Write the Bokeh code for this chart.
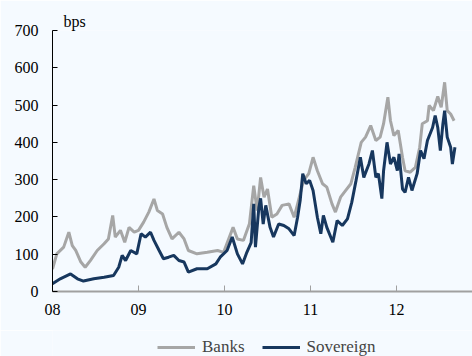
from bokeh.plotting import figure
from bokeh.layouts import column
from bokeh.models import Range1d, FixedTicker, Title, Legend, LegendItem
from bokeh.embed import file_html
from bokeh.resources import INLINE

# ---- data (decimal years, bps) ----
banks_t = [2008.00, 2008.05, 2008.13, 2008.19, 2008.23, 2008.27, 2008.33, 2008.38, 2008.44, 2008.52,
           2008.60, 2008.65, 2008.70, 2008.73, 2008.79, 2008.84, 2008.89, 2008.95,
           2009.00, 2009.06, 2009.12, 2009.18, 2009.22, 2009.28, 2009.33, 2009.39, 2009.47, 2009.53,
           2009.58, 2009.68, 2009.80, 2009.92, 2009.99,
           2010.10, 2010.15, 2010.22, 2010.29, 2010.34, 2010.38, 2010.42, 2010.46, 2010.50, 2010.55,
           2010.61, 2010.67, 2010.75, 2010.81, 2010.86, 2010.92, 2010.98,
           2011.03, 2011.08, 2011.14, 2011.19, 2011.25, 2011.29, 2011.35, 2011.41, 2011.47, 2011.52,
           2011.59, 2011.64, 2011.70, 2011.76, 2011.81, 2011.85, 2011.90, 2011.93, 2011.97,
           2012.02, 2012.07, 2012.10, 2012.16, 2012.22, 2012.27, 2012.30, 2012.36, 2012.38, 2012.43,
           2012.48, 2012.52, 2012.56, 2012.59, 2012.63, 2012.67]
banks_v = [60, 101, 119, 159, 123, 110, 79, 65, 83, 110,
           128, 141, 204, 146, 164, 132, 172, 159,
           164, 186, 213, 248, 217, 208, 172, 141, 159, 141,
           110, 101, 105, 110, 105,
           172, 141, 137, 182, 284, 217, 306, 253, 275, 199,
           208, 231, 235, 199, 244, 298, 316,
           360, 324, 289, 280, 235, 213, 253, 271, 289, 333,
           400, 414, 445, 405, 414, 450, 521, 458, 418,
           432, 360, 324, 320, 333, 387, 450, 458, 499, 485,
           523, 494, 561, 485, 476, 458]

sov_t = [2008.00, 2008.09, 2008.21, 2008.29, 2008.36, 2008.48, 2008.60, 2008.71, 2008.77, 2008.81,
         2008.85, 2008.91, 2008.98,
         2009.03, 2009.08, 2009.14, 2009.18, 2009.24, 2009.29, 2009.35, 2009.41, 2009.47, 2009.53,
         2009.58, 2009.68, 2009.80, 2009.90, 2009.95,
         2010.03, 2010.09, 2010.15, 2010.21, 2010.26, 2010.31, 2010.34, 2010.36, 2010.40, 2010.42,
         2010.45, 2010.48, 2010.53, 2010.57, 2010.63, 2010.69, 2010.75, 2010.81, 2010.85, 2010.88,
         2010.91, 2010.95, 2010.99,
         2011.03, 2011.08, 2011.12, 2011.15, 2011.19, 2011.26, 2011.31, 2011.37, 2011.43, 2011.48,
         2011.53, 2011.58, 2011.62, 2011.68, 2011.72, 2011.76, 2011.79, 2011.83, 2011.85, 2011.89,
         2011.93, 2011.97,
         2012.01, 2012.03, 2012.07, 2012.10, 2012.14, 2012.18, 2012.24, 2012.28, 2012.32, 2012.36,
         2012.42, 2012.45, 2012.48, 2012.51, 2012.54, 2012.56, 2012.59, 2012.63, 2012.65, 2012.68]
sov_v = [21, 34, 47, 34, 28, 34, 38, 43, 65, 97,
         83, 110, 101,
         155, 146, 159, 137, 110, 88, 92, 97, 83, 79,
         52, 61, 61, 74, 92,
         110, 146, 101, 74, 105, 131, 235, 119, 226, 250,
         181, 231, 172, 146, 181, 177, 168, 150, 199, 244,
         316, 289, 298,
         271, 199, 155, 204, 172, 132, 190, 177, 195, 239,
         298, 360, 306, 342, 378, 306, 316, 249, 324, 400,
         342, 360,
         324, 369, 275, 266, 306, 271, 316, 378, 356, 405,
         440, 472, 440, 378, 450, 485, 414, 387, 342, 387]

tick_years = [2008, 2009, 2010, 2011, 2012]
tick_labels = ["08", "09", "10", "11", "12"]
y_ticks = [0, 100, 200, 300, 400, 500, 600, 700]
series_names = ["Banks", "Sovereign"]

BG = "#f5faff"
FONT = "Times New Roman"
C_BANKS = "#a6a6a6"
C_SOV = "#17375e"

fig = figure(width=472, height=330, output_backend="svg", toolbar_location=None,
             x_range=Range1d(2008.0, 2012.884), y_range=Range1d(0, 700),
             min_border_left=52, min_border_right=0, min_border_top=30, min_border_bottom=39)
fig.background_fill_color = BG
fig.border_fill_color = BG
fig.outline_line_color = None
fig.xgrid.visible = False
fig.ygrid.visible = False

fig.line(banks_t, banks_v, line_color=C_BANKS, line_width=3)
fig.line(sov_t, sov_v, line_color=C_SOV, line_width=3)

# axes
fig.xaxis.ticker = FixedTicker(ticks=tick_years)
fig.xaxis.major_label_overrides = {float(t): l for t, l in zip(tick_years, tick_labels)}
fig.xaxis.axis_line_color = "#a0a0a0"
fig.xaxis.axis_line_width = 2
fig.xaxis.major_tick_line_color = "#a0a0a0"
fig.xaxis.major_tick_in = 6
fig.xaxis.major_tick_out = 0
fig.xaxis.minor_tick_line_color = None
fig.xaxis.major_label_standoff = 12
fig.xaxis.major_label_text_font = FONT
fig.xaxis.major_label_text_font_size = "16px"
fig.xaxis.major_label_text_color = "black"

fig.yaxis.ticker = FixedTicker(ticks=y_ticks)
fig.yaxis.axis_line_color = "black"
fig.yaxis.major_tick_line_color = "black"
fig.yaxis.major_tick_in = 5
fig.yaxis.major_tick_out = 0
fig.yaxis.minor_tick_line_color = None
fig.yaxis.major_label_standoff = 14
fig.yaxis.major_label_text_font = FONT
fig.yaxis.major_label_text_font_size = "16px"
fig.yaxis.major_label_text_color = "black"

fig.add_layout(Title(text="bps", align="left", offset=11, standoff=2,
                     text_font=FONT, text_font_size="16px", text_font_style="normal",
                     text_color="black"), "above")

# legend strip below the chart (its frame is aligned with the chart frame, x = 52)
leg = figure(width=472, height=26, output_backend="svg", toolbar_location=None,
             x_range=Range1d(0, 1), y_range=Range1d(0, 1),
             x_axis_location=None, y_axis_location=None, min_border=0)
leg.background_fill_color = BG
leg.border_fill_color = BG
leg.outline_line_color = None
leg.xgrid.visible = False
leg.ygrid.visible = False
nan = float("nan")
lb = leg.line(x=[nan], y=[nan], line_color=C_BANKS, line_width=3)
ls = leg.line(x=[nan], y=[nan], line_color=C_SOV, line_width=3)
legend = Legend(items=[LegendItem(label=series_names[0], renderers=[lb]),
                       LegendItem(label=series_names[1], renderers=[ls])],
                location=(105, -1), orientation="horizontal",
                background_fill_alpha=0, border_line_color=None,
                label_text_font=FONT, label_text_font_size="17px",
                glyph_width=38, glyph_height=14, label_height=14,
                label_standoff=7, spacing=17, padding=0, margin=0)
leg.add_layout(legend)

p = column(fig, leg, spacing=0)

html = file_html(p, INLINE)
html = html.replace("<body>", '<body style="background-color:%s;">' % BG, 1)
open("out.html", "w").write(html)
